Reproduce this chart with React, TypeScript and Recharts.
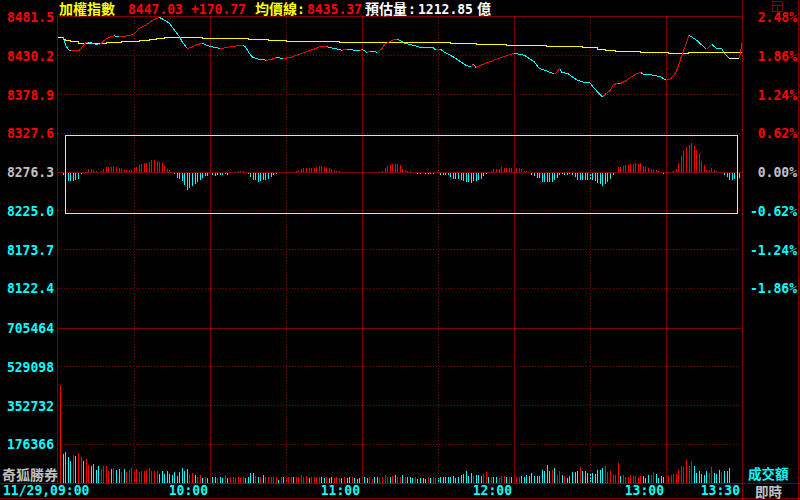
import React from "react";
import { ComposedChart, Line, Bar, Cell, XAxis, YAxis, ReferenceLine } from "recharts";

if (typeof document !== "undefined") {
  document.body.style.margin = "0";
  document.body.style.background = "#000";
}

const RED = "#ff0000";
const CYAN = "#00ffff";
const YELLOW = "#ffff00";
const GRAY = "#c0c0c0";
const WHITE = "#ffffff";
const GRID = "#800000";
const MONO = "'DejaVu Sans Mono', monospace";
const CJK = "'Noto Sans CJK TC', 'Noto Sans CJK SC', sans-serif";

const PREV_CLOSE = 8276.3;
const PRICE_TICKS = [8481.5, 8430.2, 8378.9, 8327.6, 8276.3, 8225.0, 8173.7, 8122.4];
const VOL_TICKS = [176366, 352732, 529098, 705464];
const TIME_TICKS = [0, 60, 120, 180, 240, 270];
const TIME_LABELS = ["11/29,09:00", "10:00", "11:00", "12:00", "13:00", "13:30"];
const HOUR_LINES = [60, 120, 180, 240];
const HALF_HOUR_LINES = [30, 90, 150, 210];

// index, minutes after 09:00
const PRICE_T = [0, 2, 3, 4, 5, 8, 9, 10, 11, 12, 13, 16, 17, 18, 19, 20, 22, 23, 24, 26, 27, 28, 30, 31, 32, 34, 36, 37, 40, 42, 44, 46, 48, 49, 51, 52, 53, 55, 57, 59, 61, 64, 66, 68, 71, 73, 74, 76, 77, 79, 82, 84, 86, 89, 92, 94, 97, 99, 102, 103, 106, 109, 112, 114, 117, 119, 120, 122, 123, 125, 126, 128, 129, 131, 132, 134, 135, 137, 140, 143, 148, 149, 151, 153, 156, 159, 161, 163, 164, 165, 167, 169, 171, 173, 176, 178, 180, 182, 184, 186, 188, 190, 193, 196, 197, 198, 199, 201, 203, 205, 207, 210, 211, 213, 215, 216, 218, 219, 221, 222, 224, 226, 228, 230, 231, 233, 235, 238, 240, 242, 244, 245, 246, 247, 248, 249, 252, 256, 258, 260, 262, 263, 265, 269, 270];
const PRICE_V = [8454.5, 8454.5, 8444.3, 8438.6, 8436.7, 8437.0, 8438.6, 8444.3, 8447.3, 8448.3, 8447.3, 8444.3, 8446.5, 8450.0, 8452.3, 8454.5, 8456.6, 8456.2, 8455.3, 8456.2, 8456.4, 8456.6, 8458.9, 8462.0, 8466.5, 8469.5, 8473.9, 8476.6, 8481.0, 8477.5, 8473.1, 8464.2, 8455.3, 8448.7, 8439.9, 8440.7, 8442.0, 8445.2, 8446.5, 8443.4, 8442.0, 8439.9, 8440.7, 8442.0, 8443.4, 8444.3, 8442.0, 8431.0, 8427.9, 8425.7, 8424.4, 8424.8, 8427.9, 8426.6, 8427.9, 8431.0, 8434.0, 8436.7, 8439.9, 8442.0, 8442.3, 8439.9, 8437.6, 8438.6, 8437.6, 8436.7, 8438.6, 8434.6, 8435.9, 8435.7, 8434.6, 8439.9, 8445.6, 8448.7, 8450.9, 8451.9, 8450.3, 8446.5, 8444.3, 8441.2, 8441.0, 8437.6, 8438.6, 8434.0, 8428.7, 8422.1, 8417.7, 8415.4, 8419.0, 8414.7, 8417.7, 8420.8, 8423.0, 8425.7, 8428.7, 8431.0, 8433.3, 8432.3, 8431.0, 8426.6, 8422.1, 8413.3, 8410.1, 8405.7, 8408.8, 8413.3, 8407.5, 8407.2, 8402.2, 8397.8, 8395.5, 8394.2, 8389.8, 8382.2, 8375.6, 8379.2, 8384.5, 8391.1, 8394.2, 8393.4, 8396.8, 8401.4, 8405.7, 8408.0, 8405.7, 8405.4, 8404.4, 8402.2, 8397.8, 8400.0, 8408.8, 8417.7, 8428.7, 8437.6, 8446.5, 8457.6, 8450.9, 8438.6, 8445.2, 8439.9, 8439.6, 8433.3, 8426.6, 8426.6, 8447.03];

// average price line
const AVG_T = [0, 2, 3, 5, 8, 19, 25, 32, 36, 39, 42, 57, 75, 83, 90, 111, 155, 165, 177, 193, 207, 213, 216, 220, 230, 241, 249, 270];
const AVG_V = [8454.5, 8452.0, 8450.5, 8448.7, 8446.6, 8447.3, 8448.7, 8450.0, 8451.9, 8453.2, 8454.5, 8453.2, 8451.9, 8450.0, 8448.7, 8447.9, 8446.5, 8445.2, 8443.9, 8442.6, 8440.5, 8438.6, 8437.2, 8436.0, 8434.9, 8433.6, 8435.0, 8435.37];

// oscillator, one value per minute 0..270
const OSC = [
  0, 0, -3, -9, -9.3, -9, -9, -7.7, -7, -1.7,
  0, 0, 3.3, 3.3, 1.7, 0.7, 0, 0.7, 3.3, 4.7,
  5.3, 5.3, 6.3, 5.3, 4, 3.3, 2.3, 2.3, 2.3, 2.3,
  4, 4.7, 6.7, 8, 8.7, 8.7, 10, 11.7, 11.7, 11,
  10, 9.3, 6.3, 3.3, 1.7, 0, -2, -6, -7, -9.3,
  -13.3, -17.7, -16, -14, -12, -9.5, -7.7, -5.7, -4.3, -4.3,
  -4, -3.3, -4.3, -2.7, -2.7, -3.3, -1.7, -2.7, -1, 0,
  0, 0.7, 0.7, 0.7, 0, -1.7, -5, -7.7, -8.3, -10,
  -9, -8.3, -7.7, -6.7, -5, -3.3, -1.7, -1, 0, -0.7,
  0, -0.7, 0, 0, 0.7, 2.3, 3.3, 4, 4, 4,
  4, 4, 5, 6, 6, 5, 4, 4, 2.7, 1.7,
  0.7, 0.7, 0, -0.7, 0, -1, -1, 0, 0, -1,
  0, 0, -1, -1, 0, -1, -1, -1, 1, 4,
  6, 7, 8, 8, 8, 6.7, 3.3, 2.3, 1, 0.7,
  -0.7, -0.7, -1.7, -2.3, -1, -2, -2, -2, -2, -1,
  -1, -2.7, -2.7, -3, -3.3, -5, -6.7, -6.7, -7, -8,
  -8.7, -10, -10, -11, -9, -9, -8, -6.7, -4.3, -2,
  0, 1, 2.7, 2.7, 3.3, 4.7, 4, 4, 4, 4,
  4.7, 4, 4, 2.7, 1.3, 0.7, -1.3, -3, -4, -6,
  -6, -9.7, -9.7, -9.7, -9.7, -9.7, -7.7, -6, -2.7, -1.7,
  -2.7, -2.7, -2, -3.3, -5, -7.7, -7.7, -8, -8, -7.7,
  -8, -8, -8.7, -11, -12, -14, -12, -9.7, -6.7, -3.3,
  0, 4.7, 4.7, 5.7, 6.7, 6.7, 8.3, 8.3, 9.3, 8.3,
  9, 5.7, 4.7, 4, 3, 2, 1.7, 0.7, 0, -1.7,
  -2, -1, 0, 0.7, 3, 9, 16.3, 20.7, 25, 27.3,
  29, 26.3, 22.3, 19, 11.3, 7.3, 2.3, 2, 4, 2,
  0.7, 0, 0, -2.7, -5, -7.7, -7.7, -7, -6, -6, 5,
];

// traded amount per minute 0..270
const VOLUME = [
  0,
  446000, 133300, 141100, 118300, 100100, 128800, 122900, 136500, 118300, 100100,
  110600, 83300, 77400, 87800, 59200, 77400, 65100, 77400, 77400, 54600,
  65100, 69600, 59200, 65100, 50100, 65100, 50100, 59200, 69600, 50100,
  65100, 50100, 54600, 54600, 59200, 69600, 54600, 54600, 54600, 42300,
  54600, 42300, 54600, 42300, 36400, 50100, 31900, 50100, 69600, 54600,
  65100, 42300, 44100, 37800, 28700, 37800, 22800, 28700, 21400, 22800,
  28700, 25900, 21400, 28700, 22800, 37800, 22800, 28700, 25900, 21400,
  28700, 21400, 25900, 21400, 25900, 44100, 44100, 33200, 28700, 28700,
  37800, 25900, 25900, 25900, 28700, 28700, 13700, 25900, 25900, 21400,
  25900, 25900, 28700, 28700, 28700, 35000, 25900, 33200, 22800, 25900,
  28700, 25900, 25900, 25900, 21400, 28700, 22800, 28700, 22800, 25900,
  21400, 21400, 25900, 21400, 25900, 28700, 21400, 18200, 21400, 22800,
  25900, 21400, 25900, 18200, 25900, 28700, 21400, 28700, 37800, 28700,
  25900, 33200, 37800, 25900, 25900, 37800, 28700, 25900, 25900, 21400,
  28700, 18200, 21400, 21400, 18200, 25900, 21400, 28700, 21400, 22800,
  25900, 25900, 28700, 25900, 28700, 33200, 21400, 28700, 37800, 41000,
  56000, 33200, 46900, 33200, 37800, 37800, 33200, 41000, 51400, 28700,
  28700, 28700, 28700, 21400, 33200, 33200, 25900, 28700, 25900, 27300,
  25900, 25900, 33200, 28700, 37800, 33200, 44100, 33200, 33200, 33200,
  60500, 56000, 83300, 56000, 59200, 66900, 37800, 56000, 37800, 33200,
  22800, 33200, 48700, 48700, 56000, 71400, 53200, 56000, 44100, 41000,
  44100, 41000, 60500, 60500, 70500, 78700, 48700, 53200, 37800, 37800,
  89700, 31900, 36400, 28700, 28700, 36400, 31900, 31900, 28700, 31900,
  31900, 24100, 36400, 36400, 50100, 39600, 24100, 31900, 28700, 27300,
  31900, 36400, 42300, 42300, 59200, 77400, 74200, 104700, 77400, 100100,
  77400, 46900, 54600, 39600, 36400, 54600, 46900, 72800, 46900, 42300,
  59200, 51400, 54600, 54600, 69600, 0, 0, 0, 0, 705464,
];
// r = up minute, c = down minute
const VOL_SIDE = (
  "-" +
  "rccccrcrrc rrccccrrrr crccrcrrrr rrrrrrrrrc cccccccccc crrcrrcrcc ccrccrcrrr " +
  "rrrccccrcr crrrrrcrcr rrcrrrrrcr rrrccrccrr rcrccrcccc ccrrccrrrr crcrrcrccc " +
  "rccccrcrrc cccccccccc cccrcccrrc rccrrrcrcr rrcccccccc ccccrcrrcr cccccrcccc " +
  "cccccrrrrr rcrrrrrrrr cccrrccccc rrrrrrrrrr ccccccrrcc crccc----r"
).replace(/ /g, "");

const oscRows = OSC.map((v, i) => ({ t: i, osc: v }));
const volRows = VOLUME.map((v, i) => ({ t: i, vol: v }));

type Pt = { t: number; v: number | null };
// split the price line into rising / falling / flat pieces
function pieces(dir: number): Pt[] {
  const out: Pt[] = [];
  let open = false;
  for (let i = 0; i < PRICE_T.length - 1; i++) {
    const d = Math.sign(PRICE_V[i + 1] - PRICE_V[i]);
    if (d === dir) {
      if (!open) out.push({ t: PRICE_T[i], v: PRICE_V[i] });
      out.push({ t: PRICE_T[i + 1], v: PRICE_V[i + 1] });
      open = true;
    } else if (open) {
      out.push({ t: PRICE_T[i], v: null });
      open = false;
    }
  }
  return out;
}
const UP = pieces(1);
const DOWN = pieces(-1);
const FLAT = pieces(0);
const AVG = AVG_T.map((t, i) => ({ t, v: AVG_V[i] }));

const LEFT_LABEL_X = 54;
const RIGHT_LABEL_X = 797;
const CW = 7.85;
const Mono = ({ x, y, fill, anchor = "start", children }: any) => (
  <text
    x={x}
    y={y}
    fill={fill}
    textAnchor={anchor}
    fontFamily={MONO}
    fontWeight="bold"
    fontSize={14}
    textLength={String(children).length * CW}
    lengthAdjust="spacingAndGlyphs"
  >
    {children}
  </text>
);
const Han = ({ x, y, fill, size = 14, children }: any) => (
  <text x={x} y={y} fill={fill} fontFamily={CJK} fontWeight="bold" fontSize={size}>
    {children}
  </text>
);

const priceColor = (v: number) =>
  v > PREV_CLOSE + 0.01 ? RED : v < PREV_CLOSE - 0.01 ? CYAN : GRAY;

const PriceTick = (props: any) => {
  const v = Number(props.payload.value);
  return (
    <Mono x={LEFT_LABEL_X} y={Number(props.y) + 5} fill={priceColor(v)} anchor="end">
      {v.toFixed(1)}
    </Mono>
  );
};
const PctTick = (props: any) => {
  const v = Number(props.payload.value);
  const pct = ((v - PREV_CLOSE) / PREV_CLOSE) * 100;
  return (
    <Mono x={RIGHT_LABEL_X} y={Number(props.y) + 5} fill={priceColor(v)} anchor="end">
      {pct.toFixed(2) + "%"}
    </Mono>
  );
};
const VolTick = (props: any) => (
  <Mono
    x={props.side === "left" ? LEFT_LABEL_X : RIGHT_LABEL_X - 1}
    y={Number(props.y) + 5}
    fill={CYAN}
    anchor="end"
  >
    {props.payload.value}
  </Mono>
);
const TimeTick = (props: any) => {
  const i = TIME_TICKS.indexOf(props.payload.value);
  const label = TIME_LABELS[i];
  if (i === 0)
    return (
      <Mono x={3} y={props.y + 12} fill={CYAN}>
        {label}
      </Mono>
    );
  return (
    <Mono x={props.x - 2} y={props.y + 12} fill={CYAN} anchor="end">
      {label}
    </Mono>
  );
};

const timeLines = (yAxisId: string) => [
  ...HOUR_LINES.map((t) => (
    <ReferenceLine key={"h" + t} x={t} yAxisId={yAxisId} stroke={GRID} />
  )),
  ...HALF_HOUR_LINES.map((t) => (
    <ReferenceLine key={"d" + t} x={t} yAxisId={yAxisId} stroke={GRID} strokeDasharray="1 2" />
  )),
];

const crisp: React.CSSProperties = { position: "absolute", left: 0, shapeRendering: "crispEdges" } as any;

const App: React.FC = () => {
  return (
    <div style={{ position: "relative", width: 800, height: 500, background: "#000", overflow: "hidden" }}>
      <div style={{ ...crisp, top: 0 }}>
        <ComposedChart width={800} height={327} data={oscRows} margin={{ top: 17, right: 0, bottom: 0, left: 0 }}>
          <XAxis dataKey="t" type="number" domain={[0, 270]} allowDataOverflow hide />
          <YAxis
            yAxisId="price"
            orientation="left"
            width={58}
            domain={[8071.1, 8481.5]}
            ticks={PRICE_TICKS}
            interval={0}
            tick={<PriceTick />}
            tickSize={0}
            tickMargin={0}
            axisLine={false}
            tickLine={false}
            allowDataOverflow
          />
          <YAxis
            yAxisId="pct"
            orientation="right"
            width={58}
            domain={[8071.1, 8481.5]}
            ticks={PRICE_TICKS}
            interval={0}
            tick={<PctTick />}
            tickSize={0}
            tickMargin={0}
            axisLine={false}
            tickLine={false}
            allowDataOverflow
          />
          <YAxis yAxisId="osc" hide domain={[-155, 155]} />
          {PRICE_TICKS.filter((p) => p !== PREV_CLOSE && p !== PRICE_TICKS[0]).map((p) => (
            <ReferenceLine key={p} y={p} yAxisId="price" stroke={GRID} strokeDasharray="1 2" />
          ))}
          <ReferenceLine y={PREV_CLOSE} yAxisId="price" stroke={GRID} />
          {timeLines("price")}
          <Bar yAxisId="osc" dataKey="osc" barSize={1} isAnimationActive={false}>
            {oscRows.map((r) => (
              <Cell key={r.t} fill={r.osc >= 0 ? RED : CYAN} />
            ))}
          </Bar>
          <Line yAxisId="price" data={AVG} dataKey="v" type="stepAfter" stroke={YELLOW} strokeWidth={1} dot={false} isAnimationActive={false} />
          <Line yAxisId="price" data={UP} dataKey="v" stroke={RED} strokeWidth={1} dot={false} isAnimationActive={false} />
          <Line yAxisId="price" data={DOWN} dataKey="v" stroke={CYAN} strokeWidth={1} dot={false} isAnimationActive={false} />
          <Line yAxisId="price" data={FLAT} dataKey="v" stroke={WHITE} strokeWidth={1} dot={false} isAnimationActive={false} />
        </ComposedChart>
      </div>

      <div style={{ ...crisp, top: 320 }}>
        <ComposedChart width={800} height={180} data={volRows} margin={{ top: 8, right: 0, bottom: 0, left: 0 }}>
          <XAxis
            dataKey="t"
            type="number"
            domain={[0, 270]}
            ticks={TIME_TICKS}
            interval={0}
            height={17}
            tick={<TimeTick />}
            tickSize={0}
            tickMargin={0}
            axisLine={false}
            tickLine={false}
            allowDataOverflow
          />
          <YAxis
            yAxisId="vol"
            orientation="left"
            width={58}
            domain={[0, 705464]}
            ticks={VOL_TICKS}
            interval={0}
            tick={<VolTick side="left" />}
            tickSize={0}
            tickMargin={0}
            axisLine={false}
            tickLine={false}
          />
          <YAxis
            yAxisId="volR"
            orientation="right"
            width={58}
            domain={[0, 705464]}
            ticks={VOL_TICKS}
            interval={0}
            tick={<VolTick side="right" />}
            tickSize={0}
            tickMargin={0}
            axisLine={false}
            tickLine={false}
          />
          {VOL_TICKS.slice(0, 3).map((v) => (
            <ReferenceLine key={v} y={v} yAxisId="vol" stroke={GRID} strokeDasharray="1 2" />
          ))}
          <ReferenceLine y={VOL_TICKS[3]} yAxisId="vol" stroke={GRID} />
          {timeLines("vol")}
          <Bar yAxisId="vol" dataKey="vol" barSize={1} isAnimationActive={false}>
            {volRows.map((r) => (
              <Cell key={r.t} fill={VOL_SIDE[r.t] === "r" ? RED : CYAN} />
            ))}
          </Bar>
        </ComposedChart>
      </div>

      <svg width={800} height={500} style={{ position: "absolute", left: 0, top: 0, pointerEvents: "none" }} shapeRendering="crispEdges">
        <line x1={58} y1={16.5} x2={742} y2={16.5} stroke={GRID} />
        <line x1={57.5} y1={16} x2={57.5} y2={483} stroke={GRID} />
        <line x1={742.5} y1={0} x2={742.5} y2={500} stroke={GRID} />
        <line x1={0} y1={483.5} x2={800} y2={483.5} stroke={GRID} />
        <line x1={0} y1={498.5} x2={800} y2={498.5} stroke={GRID} />
        <line x1={798.5} y1={0} x2={798.5} y2={500} stroke={GRID} />
        <rect x={65.5} y={135.5} width={672} height={78} fill="none" stroke={YELLOW} />
        <rect x={772.5} y={1.5} width={10} height={10} fill="none" stroke={GRID} />
        <line x1={772} y1={5.5} x2={783} y2={5.5} stroke={GRID} />
        <line x1={777.5} y1={5} x2={777.5} y2={12} stroke={GRID} />

        <Han x={59} y={14} fill={YELLOW}>加權指數</Han>
        <Mono x={128} y={14} fill={RED}>8447.03</Mono>
        <Mono x={191} y={14} fill={RED}>+170.77</Mono>
        <Han x={255} y={14} fill={YELLOW}>均價線</Han>
        <Mono x={297} y={14} fill={YELLOW}>:</Mono>
        <Mono x={307} y={14} fill={RED}>8435.37</Mono>
        <Han x={365} y={14} fill={WHITE}>預估量</Han>
        <Mono x={408} y={14} fill={WHITE}>:</Mono>
        <Mono x={418} y={14} fill={WHITE}>1212.85</Mono>
        <Han x={477} y={14} fill={WHITE}>億</Han>

        <Han x={2} y={480} fill={GRAY}>奇狐勝券</Han>
        <Han x={748} y={479} size={13.5} fill={CYAN}>成交額</Han>
        <Han x={755} y={497} size={13.5} fill={GRAY}>即時</Han>
      </svg>
    </div>
  );
};

export default App;
